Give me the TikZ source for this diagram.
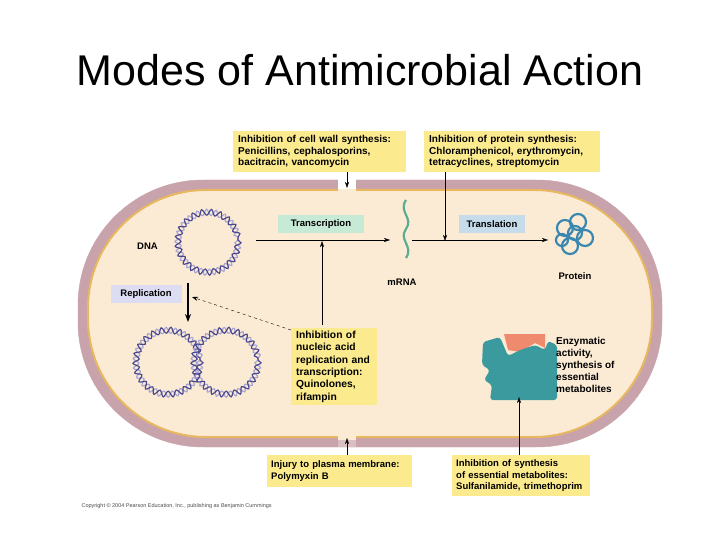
\documentclass[tikz,border=0pt]{standalone}
\usepackage{fontspec}
\setmainfont{Liberation Sans}
\usetikzlibrary{decorations.pathmorphing,arrows.meta}
\definecolor{wall}{HTML}{C9A3AB}
\definecolor{memb}{HTML}{E8B860}
\definecolor{cyto}{HTML}{FCEBD4}
\definecolor{ybox}{HTML}{FCEB8E}
\definecolor{gbox}{HTML}{C6EAD6}
\definecolor{bbox}{HTML}{C6DCEA}
\definecolor{pbox}{HTML}{DCDCF2}
\definecolor{dnad}{HTML}{4A4890}
\definecolor{dnal}{HTML}{A8A6D0}
\definecolor{rna}{HTML}{5AAE90}
\definecolor{prot}{HTML}{3A88B0}
\definecolor{enz}{HTML}{3A9A9E}
\definecolor{sub}{HTML}{F08A6E}
\tikzset{
 ytext/.style={fill=ybox,align=left,font=\fontsize{10}{11.5}\selectfont\bfseries,inner xsep=5pt,inner ysep=3pt,anchor=north west},
 lab/.style={font=\fontsize{9.5}{11}\selectfont\bfseries,inner sep=0pt},
 arr/.style={-{Stealth[length=6pt,width=4pt]},thin},
 dnaA/.style={dnad,line width=1.2pt,decorate,decoration={snake,segment length=9pt,amplitude=3pt}},
 dnaB/.style={dnal,line width=1.2pt,decorate,decoration={snake,segment length=9pt,amplitude=-3pt}}
}
\begin{document}
\begin{tikzpicture}[x=1pt,y=-1pt]
\useasboundingbox[fill=white] (0,0) rectangle (720,540);
\node (title) at (360,70) {\fontsize{43}{48}\selectfont Modes of Antimicrobial Action};
% cell
\draw[wall,fill=wall,rounded corners=125pt] (78,180) rectangle (662,447);
\draw[memb,fill=cyto,line width=2pt,rounded corners=118pt] (88,190) rectangle (652,437);
\fill[white] (338,178) rectangle (356,189);
\fill[cyto] (338,189) rectangle (356,193);
\fill[cyto] (338,436) rectangle (356,440);
\fill[wall!70] (338,440) rectangle (356,447);
% DNA
\draw[dnaB] (208,240) circle (30);
\draw[dnaA] (208,240) circle (30);
\draw[dnaB] (168,360) circle (32);
\draw[dnaA] (168,360) circle (32);
\draw[dnaB] (226,360) circle (32);
\draw[dnaA] (226,360) circle (32);
\node[lab,anchor=east] (dna) at (158,246) {DNA};
% mRNA
\draw[rna,line width=2.2pt] (406,200) .. controls (398,212) and (414,218) .. (406,229) .. controls (398,240) and (414,246) .. (406,258);
\node[lab] (mrna) at (402,282) {mRNA};
% protein
\begin{scope}[prot,line width=2.2pt]
\draw (565,228) circle (8);\draw (578,222) circle (8);\draw (585,238) circle (8);
\draw (570,246) circle (8);\draw (575,233) circle (7);\draw (562,240) circle (6);
\end{scope}
\node[lab] (protein) at (575,276) {Protein};
% enzyme
\fill[sub] (504,334) -- (545,334) -- (545,348) -- (535,343) -- (520,352) -- (508,350) -- cycle;
\fill[enz,rounded corners=3pt] (483,342) -- (500,337) -- (508,356) -- (520,350) -- (535,345) -- (545,350) -- (548,341) -- (557,345) -- (557,400) -- (490,400) -- (492,385) -- (484,380) -- (490,370) -- (482,365) -- cycle;
\node[lab,anchor=north west,align=left,font=\fontsize{10}{12}\selectfont\bfseries] (enzt) at (556,337) {Enzymatic\\activity,\\synthesis of\\essential\\metabolites};
% labels
\node[fill=gbox,lab,minimum width=86pt,minimum height=17pt] (transc) at (321,224) {Transcription};
\node[fill=bbox,lab,minimum width=66pt,minimum height=17pt] (transl) at (492,224) {Translation};
\node[fill=pbox,lab,minimum width=71pt,minimum height=18pt] (repl) at (146,294) {Replication};
\node[ytext,text width=163pt,minimum height=41pt] (cw) at (233,131) {Inhibition of cell wall synthesis:\\Penicillins, cephalosporins,\\bacitracin, vancomycin};
\node[ytext,text width=166pt,minimum height=41pt] (ps) at (424,131) {Inhibition of protein synthesis:\\Chloramphenicol, erythromycin,\\tetracyclines, streptomycin};
\node[ytext,text width=76pt,minimum height=77pt,font=\fontsize{10.3}{12.3}\selectfont\bfseries] (na) at (291,328) {Inhibition of\\nucleic acid\\replication and\\transcription:\\Quinolones,\\rifampin};
\node[ytext,text width=137pt,minimum height=32pt,inner xsep=4pt,inner ysep=4pt,font=\fontsize{9.5}{11.5}\selectfont\bfseries] (pm) at (267,455) {Injury to plasma membrane:\\Polymyxin B};
\node[ytext,text width=130pt,minimum height=41pt,inner xsep=4pt,inner ysep=4pt,font=\fontsize{9.5}{11.5}\selectfont\bfseries] (em) at (452,455) {Inhibition of synthesis\\of essential metabolites:\\Sulfanilamide, trimethoprim};
\node[anchor=west,font=\fontsize{5.5}{6}\selectfont,text=black!70] (copy) at (78,506) {Copyright \textcopyright{} 2004 Pearson Education, Inc., publishing as Benjamin Cummings};
% arrows
\coordinate (t1) at (256,240); \coordinate (t2) at (390,240);
\coordinate (l1) at (412,240); \coordinate (l2) at (548,240);
\coordinate (na1) at (322,325);
\coordinate (cw1) at (347,172);
\draw[arr] (t1) -- (t2);
\draw[arr] (l1) -- (l2);
\draw[arr] (na1) -- (322,241);
\draw[arr] (ps.south west) ++(21,0) -- (445,241);
\draw[arr] (cw1) -- (347,188);
\draw[-{Stealth[length=8pt,width=6pt]},line width=1.3pt] (188,283) -- (188,322);
\draw[arr,dashed] (na.north west) ++(0,2) -- (192,297);
\draw[arr] (pm.north west) ++(80,0) -- (347,438);
\draw[arr] (em.north west) ++(67,0) -- (519,397);
\end{tikzpicture}
\end{document}
